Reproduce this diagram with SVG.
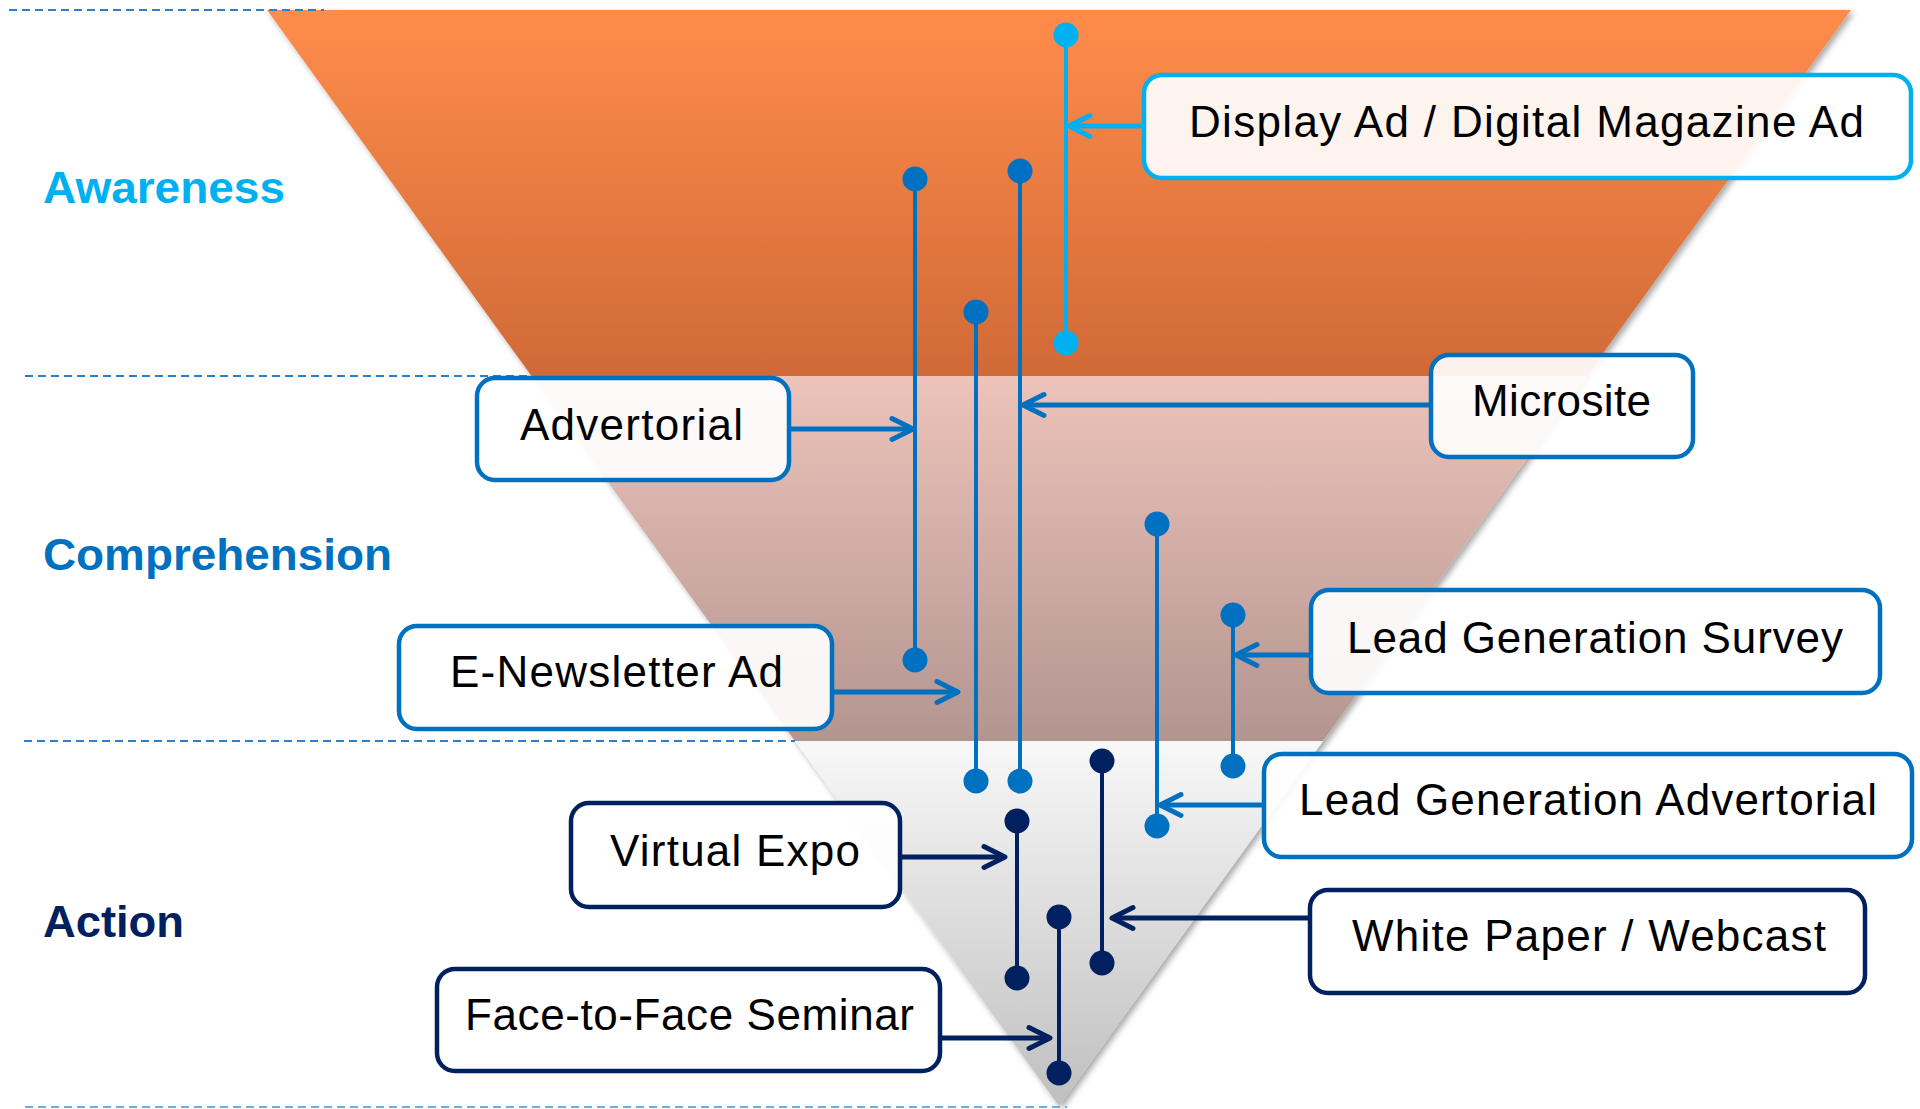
<svg xmlns="http://www.w3.org/2000/svg" width="1920" height="1109" viewBox="0 0 1920 1109">
  <defs>
    <linearGradient id="gTop" gradientUnits="userSpaceOnUse" x1="0" y1="10" x2="0" y2="376">
      <stop offset="0" stop-color="#FF8C4B"/>
      <stop offset="1" stop-color="#D06A37"/>
    </linearGradient>
    <linearGradient id="gMid" gradientUnits="userSpaceOnUse" x1="0" y1="376" x2="0" y2="741">
      <stop offset="0" stop-color="#EDC3BA"/>
      <stop offset="1" stop-color="#B39590"/>
    </linearGradient>
    <linearGradient id="gBot" gradientUnits="userSpaceOnUse" x1="0" y1="741" x2="0" y2="1106">
      <stop offset="0" stop-color="#F8F8F8"/>
      <stop offset="1" stop-color="#BFBFBF"/>
    </linearGradient>
    <filter id="shadow" x="-5%" y="-5%" width="110%" height="110%">
      <feDropShadow dx="3" dy="3" stdDeviation="3" flood-color="#000" flood-opacity="0.35"/>
    </filter>
    <marker id="arrLight" markerUnits="userSpaceOnUse" viewBox="-28 -16 32 32" markerWidth="32" markerHeight="32" refX="0" refY="0" orient="auto">
      <path d="M-21,-10.5 L0,0 L-21,10.5" class="chev" stroke="#00B0F0"/>
    </marker>
    <marker id="arrMid" markerUnits="userSpaceOnUse" viewBox="-28 -16 32 32" markerWidth="32" markerHeight="32" refX="0" refY="0" orient="auto">
      <path d="M-21,-10.5 L0,0 L-21,10.5" class="chev" stroke="#0070C0"/>
    </marker>
    <marker id="arrDark" markerUnits="userSpaceOnUse" viewBox="-28 -16 32 32" markerWidth="32" markerHeight="32" refX="0" refY="0" orient="auto">
      <path d="M-21,-10.5 L0,0 L-21,10.5" class="chev" stroke="#002060"/>
    </marker>
  </defs>
  <style>
    .chev { fill: none; stroke-width: 5; stroke-linecap: round; stroke-linejoin: round; }
    .dash { fill: none; stroke: #2A80D0; stroke-width: 2; stroke-dasharray: 8 5; }
    .dash2 { fill: none; stroke: #6AAEE8; stroke-width: 2; stroke-dasharray: 8 5; }
    .stage { font-family: "Liberation Sans", Arial, sans-serif; font-weight: bold; font-size: 44px; }
    .box { fill: #FFFFFF; fill-opacity: 0.91; stroke-width: 4.5; }
    .lbl { font-family: "Liberation Sans", Arial, sans-serif; font-size: 44px; fill: #000; }
    .vl { fill: none; stroke-width: 4; }
    .shaft { fill: none; stroke-width: 5; }
    .light { stroke: #00B0F0; }
    .mid { stroke: #0070C0; }
    .dark { stroke: #002060; }
    .dLight { fill: #00B0F0; }
    .dMid { fill: #0070C0; }
    .dDark { fill: #002060; }
  </style>
  <rect x="0" y="0" width="1920" height="1109" fill="#FFFFFF"/>

  <g id="funnel" filter="url(#shadow)">
    <polygon points="267,10 1851,10 1586.5,376 531.5,376" fill="url(#gTop)"/>
    <polygon points="531.5,376 1586.5,376 1323,741 795,741" fill="url(#gMid)"/>
    <polygon points="795,741 1323,741 1059,1106" fill="url(#gBot)"/>
  </g>

  <g id="dividers">
    <line class="dash" x1="9" y1="10" x2="324" y2="10"/>
    <line class="dash" x1="25" y1="376" x2="531" y2="376"/>
    <line class="dash" x1="24" y1="741" x2="795" y2="741"/>
    <line class="dash2" x1="25" y1="1107" x2="1067" y2="1107"/>
  </g>

  <g id="stage-awareness"><text class="stage" x="43" y="203" fill="#00B0F0" textLength="242" lengthAdjust="spacingAndGlyphs">Awareness</text></g>
  <g id="stage-comprehension"><text class="stage" x="43" y="570" fill="#0070C0" textLength="349" lengthAdjust="spacingAndGlyphs">Comprehension</text></g>
  <g id="stage-action"><text class="stage" x="43" y="937" fill="#002060" textLength="141" lengthAdjust="spacingAndGlyphs">Action</text></g>

  <g id="connectors">
    <!-- vertical range lines -->
    <line class="vl light" x1="1066" y1="35" x2="1066" y2="343"/>
    <circle class="dLight" cx="1066" cy="35" r="12.5"/>
    <circle class="dLight" cx="1066" cy="343" r="12.5"/>

    <line class="vl mid" x1="915" y1="179" x2="915" y2="660"/>
    <circle class="dMid" cx="915" cy="179" r="12.5"/>
    <circle class="dMid" cx="915" cy="660" r="12.5"/>

    <line class="vl mid" x1="1020" y1="171" x2="1020" y2="781"/>
    <circle class="dMid" cx="1020" cy="171" r="12.5"/>
    <circle class="dMid" cx="1020" cy="781" r="12.5"/>

    <line class="vl mid" x1="976" y1="312" x2="976" y2="781"/>
    <circle class="dMid" cx="976" cy="312" r="12.5"/>
    <circle class="dMid" cx="976" cy="781" r="12.5"/>

    <line class="vl mid" x1="1157" y1="524" x2="1157" y2="826"/>
    <circle class="dMid" cx="1157" cy="524" r="12.5"/>
    <circle class="dMid" cx="1157" cy="826" r="12.5"/>

    <line class="vl mid" x1="1233" y1="615" x2="1233" y2="766"/>
    <circle class="dMid" cx="1233" cy="615" r="12.5"/>
    <circle class="dMid" cx="1233" cy="766" r="12.5"/>

    <line class="vl dark" x1="1017" y1="821" x2="1017" y2="978"/>
    <circle class="dDark" cx="1017" cy="821" r="12.5"/>
    <circle class="dDark" cx="1017" cy="978" r="12.5"/>

    <line class="vl dark" x1="1102" y1="761" x2="1102" y2="963"/>
    <circle class="dDark" cx="1102" cy="761" r="12.5"/>
    <circle class="dDark" cx="1102" cy="963" r="12.5"/>

    <line class="vl dark" x1="1059" y1="917" x2="1059" y2="1073"/>
    <circle class="dDark" cx="1059" cy="917" r="12.5"/>
    <circle class="dDark" cx="1059" cy="1073" r="12.5"/>

    <!-- arrows from boxes -->
    <line class="shaft light" x1="1144" y1="126" x2="1069" y2="126" marker-end="url(#arrLight)"/>
    <line class="shaft mid" x1="1431" y1="405" x2="1023" y2="405" marker-end="url(#arrMid)"/>
    <line class="shaft mid" x1="789" y1="429" x2="913" y2="429" marker-end="url(#arrMid)"/>
    <line class="shaft mid" x1="832" y1="692" x2="958" y2="692" marker-end="url(#arrMid)"/>
    <line class="shaft mid" x1="1311" y1="655" x2="1236" y2="655" marker-end="url(#arrMid)"/>
    <line class="shaft mid" x1="1264" y1="805" x2="1160" y2="805" marker-end="url(#arrMid)"/>
    <line class="shaft dark" x1="900" y1="857" x2="1005" y2="857" marker-end="url(#arrDark)"/>
    <line class="shaft dark" x1="1310" y1="918" x2="1112" y2="918" marker-end="url(#arrDark)"/>
    <line class="shaft dark" x1="940" y1="1038" x2="1050" y2="1038" marker-end="url(#arrDark)"/>
  </g>

  <g id="node-display-ad">
    <rect class="box light" x="1144" y="75" width="767" height="103" rx="18"/>
    <text class="lbl" x="1189" y="137" textLength="675" lengthAdjust="spacing">Display Ad / Digital Magazine Ad</text>
  </g>
  <g id="node-microsite">
    <rect class="box mid" x="1431" y="355" width="262" height="102" rx="18"/>
    <text class="lbl" x="1472" y="416" textLength="179" lengthAdjust="spacing">Microsite</text>
  </g>
  <g id="node-advertorial">
    <rect class="box mid" x="477" y="378" width="312" height="102" rx="18"/>
    <text class="lbl" x="520" y="440" textLength="223" lengthAdjust="spacing">Advertorial</text>
  </g>
  <g id="node-lead-gen-survey">
    <rect class="box mid" x="1311" y="590" width="569" height="103" rx="18"/>
    <text class="lbl" x="1347" y="653" textLength="496" lengthAdjust="spacing">Lead Generation Survey</text>
  </g>
  <g id="node-e-newsletter">
    <rect class="box mid" x="399" y="626" width="433" height="103" rx="18"/>
    <text class="lbl" x="450" y="687" textLength="333" lengthAdjust="spacing">E-Newsletter Ad</text>
  </g>
  <g id="node-lead-gen-advertorial">
    <rect class="box mid" x="1264" y="754" width="648" height="103" rx="18"/>
    <text class="lbl" x="1299" y="815" textLength="578" lengthAdjust="spacing">Lead Generation Advertorial</text>
  </g>
  <g id="node-virtual-expo">
    <rect class="box dark" x="571" y="803" width="329" height="104" rx="18"/>
    <text class="lbl" x="610" y="866" textLength="250" lengthAdjust="spacing">Virtual Expo</text>
  </g>
  <g id="node-white-paper">
    <rect class="box dark" x="1310" y="890" width="555" height="103" rx="18"/>
    <text class="lbl" x="1352" y="951" textLength="474" lengthAdjust="spacing">White Paper / Webcast</text>
  </g>
  <g id="node-face-to-face">
    <rect class="box dark" x="437" y="969" width="503" height="102" rx="18"/>
    <text class="lbl" x="465" y="1030" textLength="449" lengthAdjust="spacing">Face-to-Face Seminar</text>
  </g>
</svg>
